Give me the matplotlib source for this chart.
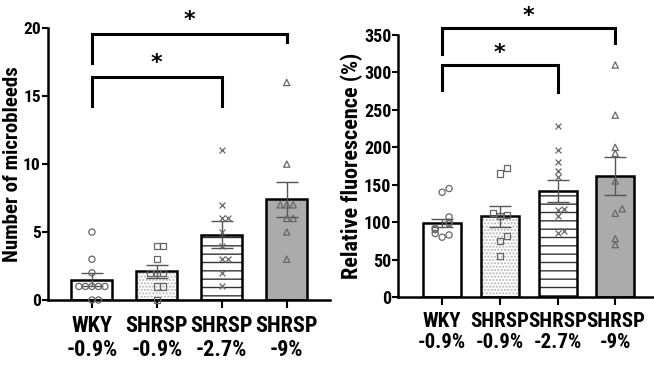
import numpy as np
import matplotlib.pyplot as plt
from matplotlib import font_manager

# ===== font (narrow Arial-like) =====
names = {f.name for f in font_manager.fontManager.ttflist}
FONT = 'Roboto Condensed' if 'Roboto Condensed' in names else 'Liberation Sans'
plt.rcParams['font.family'] = [FONT, 'DejaVu Sans']
plt.rcParams['font.weight'] = 'bold'

# ===== data =====
groups = ["WKY\n-0.9%", "SHRSP\n-0.9%", "SHRSP\n-2.7%", "SHRSP\n-9%"]

# left: number of microbleeds
mb_mean = [1.5, 2.1, 4.8, 7.4]
mb_sem = [0.5, 0.5, 1.0, 1.3]
mb_points = [
    [0, 0, 1, 1, 1, 1, 1, 2, 3, 5],
    [0, 1, 1, 2, 2, 2, 3, 4, 4],
    [1, 2, 3, 3, 4, 5, 6, 6, 7, 11],
    [3, 5, 6, 6, 7, 7, 7, 10, 16],
]
mb_brackets = [(0, 3, 19.6, 17.4, 19.0), (0, 2, 16.4, 14.3, 14.3)]

# right: relative fluorescence
fl_mean = [99, 108, 142, 162]
fl_sem = [5, 14, 15, 25]
fl_points = [
    [80, 83, 85, 90, 92, 98, 100, 107, 140, 145],
    [55, 75, 82, 108, 110, 112, 165, 172],
    [86, 88, 108, 117, 118, 160, 168, 180, 197, 228],
    [70, 78, 112, 118, 155, 192, 200, 243, 310],
]
fl_brackets = [(0, 3, 359, 325, 339), (0, 2, 310, 276, 274)]

markers = ['o', 's', 'x', '^']
hatches = [None, '.....', '--', None]
fills = ['white', 'white', 'white', '#ababab']
hatch_cols = [None, '#b5b5b5', '#333333', None]


def spread(vals, tol, step):
    offs, placed = [], []
    for v in vals:
        n = sum(1 for p in placed if abs(p - v) < tol)
        k = (n + 1) // 2 * (1 if n % 2 else -1)
        offs.append(k * step)
        placed.append(v)
    return np.array(offs)


def draw_panel(ax, means, sems, points, brackets, width, tol, step, ylim, yticks,
               ylabel, star_dy, fs, yfs, lfs):
    x = np.arange(len(groups))
    for i in range(len(groups)):
        ax.bar(x[i], means[i], width=width, color=fills[i], edgecolor='none', zorder=1)
        if hatches[i]:
            ax.bar(x[i], means[i], width=width, color='none', edgecolor=hatch_cols[i],
                   hatch=hatches[i], linewidth=0, zorder=1.5)
        ax.bar(x[i], means[i], width=width, color='none', edgecolor='black', linewidth=1.8, zorder=2)
    ax.errorbar(x, means, yerr=sems, fmt='none', ecolor='#555555', elinewidth=1.0,
                capsize=8, capthick=1.0, zorder=3)
    for i, vals in enumerate(points):
        vals = np.array(vals, dtype=float)
        offs = spread(vals, tol, step)
        if markers[i] == 'x':
            ax.scatter(x[i] + offs, vals, marker='x', s=18, c='#666666', linewidths=0.9,
                       zorder=4, clip_on=False)
        else:
            ax.scatter(x[i] + offs, vals, marker=markers[i], s=20, facecolors='none',
                       edgecolors='#666666', linewidths=0.9, zorder=4, clip_on=False)
    for a, b, y, ya, yb in brackets:
        ax.plot([x[a], x[a], x[b], x[b]], [ya, y, y, yb], color='black', lw=2.2,
                clip_on=False, solid_joinstyle='miter')
        ax.text((x[a] + x[b]) / 2, y + star_dy, '*', ha='center', va='center',
                fontsize=16, fontweight='bold', family='DejaVu Sans')
    ax.set_ylim(*ylim)
    ax.set_yticks(yticks)
    ax.set_xticks(x)
    ax.set_xticklabels(groups, fontsize=fs, fontweight='bold', linespacing=1.1)
    ax.set_ylabel(ylabel, fontsize=lfs, fontweight='bold', labelpad=1)
    for s in ['top', 'right']:
        ax.spines[s].set_visible(False)
    for s in ['left', 'bottom']:
        ax.spines[s].set_linewidth(1.8)
    ax.tick_params(axis='y', labelsize=yfs, width=1.5, length=4, pad=1)
    ax.tick_params(axis='x', width=1.5, length=6, pad=5)
    for lab in ax.get_yticklabels():
        lab.set_fontweight('bold')


fig = plt.figure(figsize=(6.54, 3.65), dpi=100)
ax1 = fig.add_axes([0.073, 0.178, 0.431, 0.745])
ax2 = fig.add_axes([0.609, 0.186, 0.39, 0.718])

draw_panel(ax1, mb_mean, mb_sem, mb_points, mb_brackets, 0.63, 0.5, 0.1,
           (0, 20), [0, 5, 10, 15, 20], 'Number of microbleeds', 1.0, 16, 12.5, 15)
ax1.set_xlim(-0.68, 3.66)

draw_panel(ax2, fl_mean, fl_sem, fl_points, fl_brackets, 0.66, 8, 0.12,
           (0, 350), [0, 50, 100, 150, 200, 250, 300, 350], 'Relative fluorescence (%)',
           16, 15, 13, 16)
ax2.set_xlim(-0.76, 3.66)

fig.savefig('out.png', dpi=100)
